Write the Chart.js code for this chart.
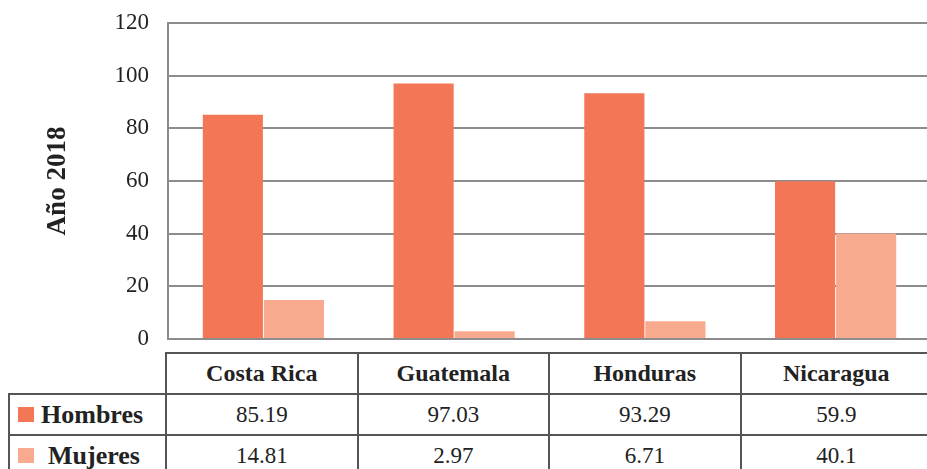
<!DOCTYPE html>
<html>
<head>
<meta charset="utf-8">
<script src="https://cdn.jsdelivr.net/npm/chart.js@4.4.1/dist/chart.umd.min.js"></script>
<style>
  html, body { margin: 0; padding: 0; background: #fff; overflow: hidden; }
  #wrap { position: relative; width: 934px; height: 469px; overflow: hidden; }
  #chartBox { position: absolute; left: 0; top: 0; width: 934px; height: 352px; }
  #tbl { position: absolute; left: 8px; top: 352px; border-collapse: collapse; table-layout: fixed;
         font-family: "Liberation Serif", serif; color: #222; }
  #tbl td { border: 2px solid #555; height: 39px; padding: 0; text-align: center; font-size: 23px; }
  #tbl td.blank { border: none; }
  #tbl td.head { font-weight: bold; font-size: 24px; }
  #tbl td.lab { text-align: left; font-weight: bold; font-size: 26px; padding-left: 8px; white-space: nowrap; }
  .sw { display: inline-block; width: 16px; height: 15px; margin-right: 7px; vertical-align: 1px; }
</style>
</head>
<body>
<div id="wrap">
  <div id="chartBox"><canvas id="barChart"></canvas></div>
  <table id="tbl"></table>
</div>
<script>
const countries = ['Costa Rica', 'Guatemala', 'Honduras', 'Nicaragua'];
const hombres = [85.19, 97.03, 93.29, 59.9];
const mujeres = [14.81, 2.97, 6.71, 40.1];
const yTicks = [0, 20, 40, 60, 80, 100, 120];

const colHombres = '#F37656';
const colMujeres = '#F8AA8E';

// data table under the chart
function buildTable() {
  const tbl = document.getElementById('tbl');
  let html = '<colgroup><col style="width:157px">';
  countries.forEach(() => html += '<col style="width:191.5px">');
  html += '</colgroup><tr><td class="blank"></td>';
  countries.forEach(c => html += `<td class="head">${c}</td>`);
  html += '</tr>';
  const rows = [['Hombres', hombres, colHombres, 7], ['Mujeres', mujeres, colMujeres, 14]];
  rows.forEach(r => {
    html += `<tr><td class="lab"><span class="sw" style="background:${r[2]};margin-right:${r[3]}px"></span>${r[0]}</td>`;
    r[1].forEach(v => html += `<td>${v}</td>`);
    html += '</tr>';
  });
  tbl.innerHTML = html;
}
buildTable();

const ctx = document.getElementById('barChart').getContext('2d');
const chart = new Chart(ctx, {
  type: 'bar',
  data: {
    labels: countries,
    datasets: [
      { label: 'Hombres', data: hombres, backgroundColor: colHombres },
      { label: 'Mujeres', data: mujeres, backgroundColor: colMujeres }
    ]
  },
  options: {
    responsive: true,
    maintainAspectRatio: false,
    animation: false,
    categoryPercentage: 0.64,
    barPercentage: 0.985,
    layout: { padding: { left: 34, top: 23, bottom: 13, right: 3 } },
    plugins: { legend: { display: false }, tooltip: { enabled: false } },
    scales: {
      x: { display: false },
      y: {
        min: yTicks[0],
        max: yTicks[yTicks.length - 1],
        afterBuildTicks: scale => { scale.ticks = yTicks.map(v => ({ value: v })); },
        afterFit: scale => {
          scale.width = 168 - 34;
          scale.paddingTop = 0;
          scale.paddingBottom = 0;
        },
        ticks: {
          padding: 19,
          color: '#222',
          font: { family: 'Liberation Serif', size: 23 }
        },
        grid: { color: '#8c8c8c', lineWidth: 2, drawTicks: false },
        border: { display: true, color: '#8c8c8c', width: 2 },
        title: {
          display: true,
          text: 'Año 2018',
          color: '#222',
          padding: { top: 8, bottom: 0 },
          font: { family: 'Liberation Serif', size: 27, weight: 'bold' }
        }
      }
    }
  }
});
</script>
</body>
</html>
